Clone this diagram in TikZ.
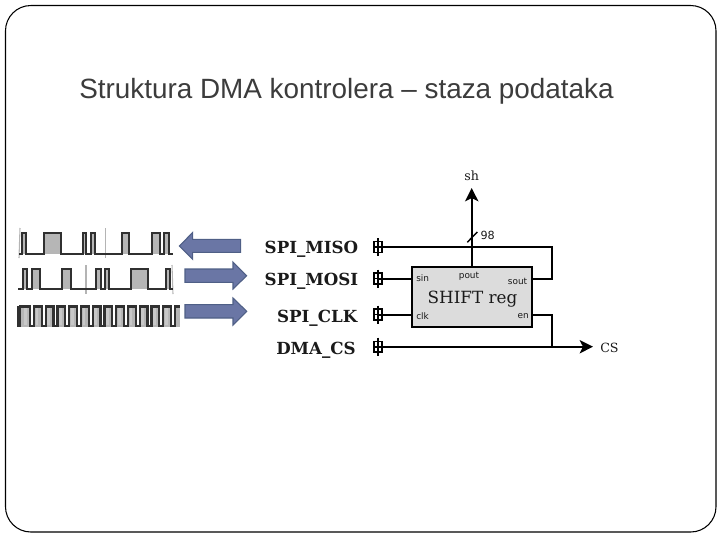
\documentclass[tikz,border=0pt]{standalone}
\usepackage{fontspec}
\setmainfont{DejaVu Serif}
\newfontfamily\titlefont{Liberation Sans}
\newfontfamily\portfont{DejaVu Sans}
\usetikzlibrary{arrows.meta,calc}
\definecolor{arrowfill}{HTML}{6A76A5}
\definecolor{arrowedge}{HTML}{4F5F86}
\definecolor{wavefill}{HTML}{B6B6B6}
\definecolor{wavelight}{HTML}{C8C8C8}
\definecolor{wavecursor}{HTML}{B4B4B4}
\definecolor{waveline}{HTML}{303030}
\definecolor{boxfill}{HTML}{DCDCDC}
\definecolor{inktext}{HTML}{1A1A1A}
\definecolor{titletext}{HTML}{3C3C3C}
\tikzset{
  wire/.style={line width=1.5pt,black,line join=miter},
  padbox/.style={draw=black,line width=1.2pt,fill=white,minimum width=6.2pt,minimum height=8pt,inner sep=0pt},
  padname/.style={font=\bfseries\fontsize{12.5pt}{14pt}\selectfont,text=inktext,anchor=east,inner sep=0pt},
  portname/.style={font=\portfont\fontsize{6.7pt}{8pt}\selectfont,text=inktext,inner sep=0pt},
  sidename/.style={text=inktext,inner sep=0pt},
  bigarrow/.style={draw=arrowedge,line width=0.8pt,fill=arrowfill,line join=miter},
  sigline/.style={draw=waveline,line width=1.4pt,line join=miter},
  sigfill/.style={fill=wavefill,draw=none},
  cursor/.style={draw=wavecursor,line width=0.8pt},
}
\newcommand{\pulses}[3]{% low y, high y, list of rise/fall
  \foreach \r/\f in {#3}{\fill[sigfill] (\r,#1) rectangle (\f,#2);}
}
\begin{document}
\begin{tikzpicture}[x=0.75pt,y=-0.75pt]
\useasboundingbox (0,0) rectangle (720,540);
\draw[line width=0.8pt,black,rounded corners=19pt] (5.5,5.5) rectangle (716,532);

\node[font=\titlefont\fontsize{20.9pt}{24pt}\selectfont,text=titletext,anchor=west,inner sep=0pt] (title) at (79,91) {Struktura DMA kontrolera – staza podataka};

% waveform 1
\pulses{254.3}{233.3}{22.3/26.3,43.7/60.7,82.7/86,91/95,121.7/129.3,151.7/160,164.3/168.7}
\draw[cursor] (20,228) -- (19,258);
\draw[cursor] (105.7,228) -- (105.7,258);
\draw[sigline] (19,254.3) -| (22.3,233.3) -| (26.3,254.3) -| (43.7,233.3) -| (60.7,254.3) -| (82.7,233.3) -| (86,254.3) -| (91,233.3) -| (95,254.3) -| (121.7,233.3) -| (129.3,254.3) -| (151.7,233.3) -| (160,254.3) -| (164.3,233.3) -| (168.7,254.3) -- (173.3,254.3);

% waveform 2
\pulses{289}{269}{22.7/26.7,32.3/40,62.3/70.7,96/100.7,105/109.3,131.3/148,165.7/170}
\draw[cursor] (86,265) -- (86,294);
\draw[cursor] (172,265) -- (173,294);
\draw[sigline] (18.3,289) -| (22.7,269) -| (26.7,289) -| (32.3,269) -| (40,289) -| (62.3,269) -| (70.7,289) -| (96,269) -| (100.7,289) -| (105,269) -| (109.3,289) -| (131.3,269) -| (148,289) -| (165.7,269) -| (170,289) -- (173.3,289);

% waveform 3
\fill[wavefill] (17,306) rectangle (22.3,327);
\foreach \k in {0,...,12}{
  \fill[wavefill] (22.3+11.75*\k,306) rectangle (30+11.75*\k,326.5);
  \fill[wavelight] (23.8+11.75*\k,307) rectangle (26.5+11.75*\k,325);
}
\fill[wavefill] (175,306) rectangle (180,326.5);
\draw[line width=1.6pt,waveline,line join=miter]
  (20,326.5) -- (20,306.5)
  \foreach \k in {0,...,12}{ -- (22.3+11.75*\k,306.5) -- (30+11.75*\k,306.5) -- (30+11.75*\k,326) -- (34.05+11.75*\k,326) -- (34.05+11.75*\k,306.5) } -- (180,306.5);
\fill[waveline] (17,306) rectangle (21,327);

% block arrows
\draw[bigarrow] (179.3,246) -- (192.7,232.5) -- (192.7,239.3) -- (240.7,239.3) -- (240.7,252.3) -- (192.7,252.3) -- (192.7,259.3) -- cycle;
\draw[bigarrow] (246.7,275.7) -- (233,262) -- (233,269) -- (185,269) -- (185,282.3) -- (233,282.3) -- (233,289) -- cycle;
\draw[bigarrow] (246.7,311.3) -- (233,298) -- (233,304.7) -- (185,304.7) -- (185,318) -- (233,318) -- (233,325) -- cycle;

% nodes
\node[draw=black,line width=1.4pt,fill=boxfill,minimum width=90pt,minimum height=44.5pt,inner sep=0pt] (reg) at (472.2,297) {};
\node[font=\fontsize{12.6pt}{14pt}\selectfont,text=inktext,inner sep=0pt] (regname) at (472.5,299.5) {SHIFT reg};
\node[portname,anchor=west] (psin) at (416,278.5) {sin};
\node[portname] (ppout) at (469,276.5) {pout};
\node[portname,anchor=east] (psout) at (527.5,281) {sout};
\node[portname,anchor=west] (pclk) at (416,316) {clk};
\node[portname,anchor=east] (pen) at (529,316.5) {en};

\node[padbox] (pmiso) at (378,247) {};
\node[padbox] (pmosi) at (378,278.5) {};
\node[padbox] (pclkp) at (378,314.5) {};
\node[padbox] (pcs) at (378,346.7) {};
\node[padname] (lmiso) at (358.5,249.5) {SPI\_MISO};
\node[padname] (lmosi) at (358.5,281.5) {SPI\_MOSI};
\node[padname] (lclk) at (357.5,318) {SPI\_CLK};
\node[padname] (lcs) at (356,350) {DMA\_CS};

\node[sidename,font=\fontsize{9.5pt}{11pt}\selectfont] (sh) at (471.7,175.5) {sh};
\node[sidename,font=\fontsize{9.5pt}{11pt}\selectfont,anchor=west] (cs) at (600,347.5) {CS};
\node[portname,font=\portfont\fontsize{8.4pt}{10pt}\selectfont,anchor=center] (n98) at (487.7,235.7) {98};

\coordinate (up) at (471.7,188);
\coordinate (csend) at (593,346.7);
\coordinate (rt1) at (552,247);
\coordinate (rt2) at (552,278.5);
\coordinate (rt3) at (552,314.5);
\coordinate (rt4) at (552,346.7);
\coordinate (sl1) at (467.3,242.3);
\coordinate (sl2) at (477.3,232);

% connectors
\foreach \p in {pmiso,pmosi,pclkp,pcs}{
  \draw[line width=1.3pt] ($(\p.center)+(0,-9)$) -- ($(\p.center)+(0,9)$);
  \draw[line width=1.2pt] (\p.west) -- (\p.center);
}
\draw[wire] (pmiso.center) -- (rt1) -- (rt2) -- (rt2 -| reg.east);
\draw[wire] (pmosi.center) -- (pmosi -| reg.west);
\draw[wire] (pclkp.center) -- (pclkp -| reg.west);
\draw[wire] (rt3 -| reg.east) -- (rt3) -- (rt4);
\draw[wire,-{Stealth[length=10pt,width=10pt,inset=2.5pt]}] (pcs.center) -- (csend);
\draw[wire,-{Stealth[length=10pt,width=10pt,inset=2.5pt]}] (up |- reg.north) -- (up);
\draw[line width=1.1pt] (sl1) -- (sl2);
\end{tikzpicture}
\end{document}
